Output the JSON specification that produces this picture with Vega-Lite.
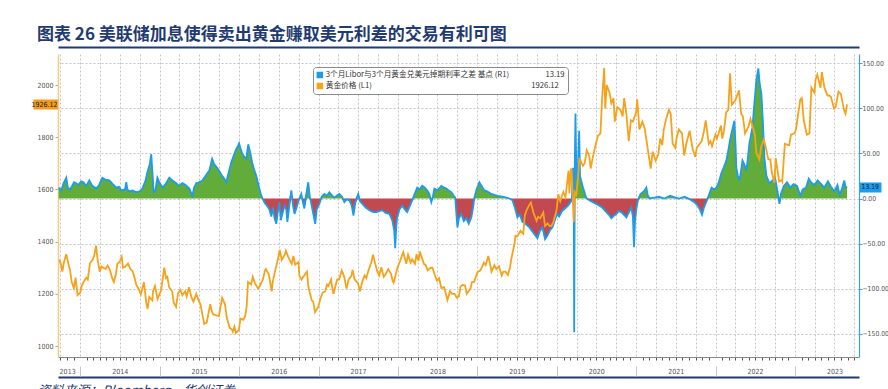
{
  "$schema": "https://vega.github.io/schema/vega-lite/v6.json",
  "width": 801,
  "height": 303,
  "autosize": {"type": "none"},
  "padding": {"left": 58, "top": 54, "right": 29, "bottom": 32},
  "background": "white",
  "title": {"text": "图表 26 美联储加息使得卖出黄金赚取美元利差的交易有利可图", "anchor": "start", "frame": "group", "dx": -21, "offset": 3, "fontSize": 17, "font": "Noto Sans CJK SC", "fontWeight": "bold", "color": "#1f3b70"},
  "config": {"view": {"stroke": null}, "axis": {"labelFont": "DejaVu Sans Condensed", "labelFontSize": 7, "labelColor": "#555"}},
  "datasets": {
    "gold": [
      {"d":"2013-09-26","v":1330},{"d":"2013-10-03","v":1315},{"d":"2013-10-10","v":1285},{"d":"2013-10-17","v":1320},{"d":"2013-10-28","v":1352},{"d":"2013-11-06","v":1318},{"d":"2013-11-15","v":1288},{"d":"2013-11-22","v":1245},{"d":"2013-12-02","v":1222},{"d":"2013-12-10","v":1262},{"d":"2013-12-19","v":1195},{"d":"2013-12-31","v":1204},
      {"d":"2014-01-07","v":1230},{"d":"2014-01-15","v":1245},{"d":"2014-01-28","v":1262},{"d":"2014-02-04","v":1255},{"d":"2014-02-14","v":1318},{"d":"2014-02-26","v":1330},{"d":"2014-03-05","v":1345},{"d":"2014-03-14","v":1385},{"d":"2014-03-21","v":1332},{"d":"2014-03-31","v":1285},{"d":"2014-04-08","v":1305},{"d":"2014-04-15","v":1300},{"d":"2014-04-28","v":1296},{"d":"2014-05-06","v":1308},{"d":"2014-05-16","v":1294},{"d":"2014-05-28","v":1258},{"d":"2014-06-04","v":1245},{"d":"2014-06-13","v":1274},{"d":"2014-06-20","v":1315},{"d":"2014-06-30","v":1322},{"d":"2014-07-10","v":1342},{"d":"2014-07-16","v":1300},{"d":"2014-07-28","v":1306},{"d":"2014-08-08","v":1316},{"d":"2014-08-20","v":1294},{"d":"2014-08-29","v":1287},{"d":"2014-09-05","v":1268},{"d":"2014-09-15","v":1235},{"d":"2014-09-30","v":1212},{"d":"2014-10-06","v":1198},{"d":"2014-10-20","v":1245},{"d":"2014-10-31","v":1165},{"d":"2014-11-06","v":1142},{"d":"2014-11-14","v":1188},{"d":"2014-11-28","v":1175},{"d":"2014-12-01","v":1210},{"d":"2014-12-10","v":1230},{"d":"2014-12-22","v":1180},{"d":"2014-12-31","v":1199},
      {"d":"2015-01-07","v":1213},{"d":"2015-01-22","v":1300},{"d":"2015-01-30","v":1260},{"d":"2015-02-05","v":1265},{"d":"2015-02-13","v":1226},{"d":"2015-02-27","v":1210},{"d":"2015-03-06","v":1167},{"d":"2015-03-17","v":1150},{"d":"2015-03-26","v":1202},{"d":"2015-04-06","v":1215},{"d":"2015-04-15","v":1195},{"d":"2015-04-28","v":1210},{"d":"2015-05-05","v":1190},{"d":"2015-05-15","v":1225},{"d":"2015-05-27","v":1186},{"d":"2015-06-05","v":1170},{"d":"2015-06-18","v":1200},{"d":"2015-06-30","v":1172},{"d":"2015-07-07","v":1160},{"d":"2015-07-20","v":1106},{"d":"2015-07-24","v":1085},{"d":"2015-08-05","v":1090},{"d":"2015-08-21","v":1160},{"d":"2015-08-28","v":1134},{"d":"2015-09-04","v":1121},{"d":"2015-09-17","v":1118},{"d":"2015-09-30","v":1115},{"d":"2015-10-05","v":1138},{"d":"2015-10-15","v":1185},{"d":"2015-10-28","v":1160},{"d":"2015-11-05","v":1110},{"d":"2015-11-18","v":1070},{"d":"2015-11-30","v":1062},{"d":"2015-12-03","v":1055},{"d":"2015-12-10","v":1074},{"d":"2015-12-17","v":1050},{"d":"2015-12-31","v":1061},
      {"d":"2016-01-07","v":1105},{"d":"2016-01-20","v":1100},{"d":"2016-01-29","v":1115},{"d":"2016-02-05","v":1155},{"d":"2016-02-11","v":1245},{"d":"2016-02-25","v":1236},{"d":"2016-03-04","v":1265},{"d":"2016-03-14","v":1240},{"d":"2016-03-28","v":1220},{"d":"2016-04-05","v":1230},{"d":"2016-04-20","v":1256},{"d":"2016-04-29","v":1290},{"d":"2016-05-03","v":1295},{"d":"2016-05-16","v":1276},{"d":"2016-05-30","v":1210},{"d":"2016-06-03","v":1243},{"d":"2016-06-15","v":1290},{"d":"2016-06-24","v":1320},{"d":"2016-07-06","v":1368},{"d":"2016-07-15","v":1330},{"d":"2016-07-29","v":1350},{"d":"2016-08-03","v":1365},{"d":"2016-08-15","v":1340},{"d":"2016-08-30","v":1315},{"d":"2016-09-07","v":1345},{"d":"2016-09-15","v":1312},{"d":"2016-09-30","v":1322},{"d":"2016-10-04","v":1270},{"d":"2016-10-14","v":1255},{"d":"2016-10-31","v":1276},{"d":"2016-11-08","v":1285},{"d":"2016-11-15","v":1225},{"d":"2016-11-30","v":1175},{"d":"2016-12-07","v":1170},{"d":"2016-12-15","v":1130},{"d":"2016-12-30","v":1150},
      {"d":"2017-01-10","v":1185},{"d":"2017-01-20","v":1205},{"d":"2017-01-31","v":1210},{"d":"2017-02-08","v":1235},{"d":"2017-02-15","v":1230},{"d":"2017-02-27","v":1255},{"d":"2017-03-03","v":1230},{"d":"2017-03-10","v":1200},{"d":"2017-03-27","v":1255},{"d":"2017-04-05","v":1255},{"d":"2017-04-17","v":1290},{"d":"2017-04-28","v":1266},{"d":"2017-05-09","v":1220},{"d":"2017-05-19","v":1255},{"d":"2017-05-31","v":1268},{"d":"2017-06-06","v":1292},{"d":"2017-06-15","v":1255},{"d":"2017-06-30","v":1242},{"d":"2017-07-10","v":1210},{"d":"2017-07-20","v":1245},{"d":"2017-07-31","v":1270},{"d":"2017-08-08","v":1260},{"d":"2017-08-18","v":1290},{"d":"2017-08-31","v":1320},{"d":"2017-09-08","v":1350},{"d":"2017-09-15","v":1325},{"d":"2017-09-29","v":1282},{"d":"2017-10-06","v":1270},{"d":"2017-10-16","v":1302},{"d":"2017-10-27","v":1265},{"d":"2017-11-06","v":1277},{"d":"2017-11-17","v":1295},{"d":"2017-11-30","v":1276},{"d":"2017-12-07","v":1250},{"d":"2017-12-12","v":1243},{"d":"2017-12-29","v":1300},
      {"d":"2018-01-08","v":1320},{"d":"2018-01-25","v":1360},{"d":"2018-01-31","v":1340},{"d":"2018-02-08","v":1315},{"d":"2018-02-16","v":1350},{"d":"2018-02-28","v":1320},{"d":"2018-03-07","v":1332},{"d":"2018-03-20","v":1315},{"d":"2018-03-27","v":1352},{"d":"2018-04-05","v":1326},{"d":"2018-04-11","v":1362},{"d":"2018-04-30","v":1315},{"d":"2018-05-08","v":1310},{"d":"2018-05-17","v":1290},{"d":"2018-05-31","v":1300},{"d":"2018-06-08","v":1300},{"d":"2018-06-20","v":1270},{"d":"2018-06-29","v":1250},{"d":"2018-07-09","v":1260},{"d":"2018-07-19","v":1222},{"d":"2018-07-31","v":1226},{"d":"2018-08-06","v":1210},{"d":"2018-08-16","v":1176},{"d":"2018-08-28","v":1210},{"d":"2018-09-06","v":1200},{"d":"2018-09-18","v":1200},{"d":"2018-09-28","v":1185},{"d":"2018-10-08","v":1190},{"d":"2018-10-15","v":1228},{"d":"2018-10-26","v":1235},{"d":"2018-11-05","v":1232},{"d":"2018-11-13","v":1200},{"d":"2018-11-30","v":1220},{"d":"2018-12-07","v":1245},{"d":"2018-12-17","v":1246},{"d":"2018-12-31","v":1280},
      {"d":"2019-01-04","v":1285},{"d":"2019-01-15","v":1290},{"d":"2019-01-31","v":1320},{"d":"2019-02-08","v":1310},{"d":"2019-02-20","v":1345},{"d":"2019-02-28","v":1315},{"d":"2019-03-07","v":1285},{"d":"2019-03-20","v":1310},{"d":"2019-03-29","v":1295},{"d":"2019-04-10","v":1306},{"d":"2019-04-23","v":1270},{"d":"2019-04-30","v":1285},{"d":"2019-05-10","v":1285},{"d":"2019-05-21","v":1272},{"d":"2019-05-31","v":1300},{"d":"2019-06-05","v":1330},{"d":"2019-06-20","v":1390},{"d":"2019-06-25","v":1422},{"d":"2019-07-03","v":1420},{"d":"2019-07-18","v":1442},{"d":"2019-07-31","v":1430},{"d":"2019-08-07","v":1500},{"d":"2019-08-15","v":1520},{"d":"2019-08-27","v":1540},{"d":"2019-09-04","v":1550},{"d":"2019-09-16","v":1510},{"d":"2019-09-30","v":1480},{"d":"2019-10-07","v":1495},{"d":"2019-10-17","v":1490},{"d":"2019-10-31","v":1512},{"d":"2019-11-08","v":1460},{"d":"2019-11-20","v":1470},{"d":"2019-11-29","v":1460},{"d":"2019-12-06","v":1460},{"d":"2019-12-16","v":1475},{"d":"2019-12-31","v":1520},
      {"d":"2020-01-08","v":1582},{"d":"2020-01-17","v":1555},{"d":"2020-01-31","v":1590},{"d":"2020-02-10","v":1570},{"d":"2020-02-24","v":1672},{"d":"2020-02-28","v":1585},{"d":"2020-03-06","v":1680},{"d":"2020-03-10","v":1670},{"d":"2020-03-19","v":1475},{"d":"2020-03-24","v":1590},{"d":"2020-03-31","v":1580},{"d":"2020-04-08","v":1650},{"d":"2020-04-14","v":1720},{"d":"2020-04-30","v":1690},{"d":"2020-05-08","v":1700},{"d":"2020-05-18","v":1750},{"d":"2020-05-29","v":1730},{"d":"2020-06-05","v":1680},{"d":"2020-06-15","v":1725},{"d":"2020-06-30","v":1780},{"d":"2020-07-08","v":1805},{"d":"2020-07-20","v":1815},{"d":"2020-07-27","v":1940},{"d":"2020-08-06","v":2065},{"d":"2020-08-11","v":1910},{"d":"2020-08-18","v":2000},{"d":"2020-08-31","v":1970},{"d":"2020-09-08","v":1930},{"d":"2020-09-18","v":1950},{"d":"2020-09-24","v":1860},{"d":"2020-10-05","v":1915},{"d":"2020-10-20","v":1905},{"d":"2020-10-30","v":1880},{"d":"2020-11-06","v":1950},{"d":"2020-11-16","v":1890},{"d":"2020-11-27","v":1785},{"d":"2020-12-07","v":1865},{"d":"2020-12-16","v":1860},{"d":"2020-12-31","v":1895},
      {"d":"2021-01-05","v":1945},{"d":"2021-01-15","v":1830},{"d":"2021-01-29","v":1860},{"d":"2021-02-08","v":1835},{"d":"2021-02-19","v":1775},{"d":"2021-02-26","v":1735},{"d":"2021-03-08","v":1680},{"d":"2021-03-17","v":1745},{"d":"2021-03-31","v":1710},{"d":"2021-04-12","v":1735},{"d":"2021-04-21","v":1795},{"d":"2021-04-30","v":1770},{"d":"2021-05-07","v":1830},{"d":"2021-05-18","v":1870},{"d":"2021-05-31","v":1905},{"d":"2021-06-08","v":1890},{"d":"2021-06-17","v":1775},{"d":"2021-06-29","v":1760},{"d":"2021-07-06","v":1800},{"d":"2021-07-15","v":1830},{"d":"2021-07-30","v":1815},{"d":"2021-08-09","v":1730},{"d":"2021-08-20","v":1780},{"d":"2021-08-31","v":1815},{"d":"2021-09-03","v":1825},{"d":"2021-09-17","v":1755},{"d":"2021-09-29","v":1725},{"d":"2021-10-06","v":1760},{"d":"2021-10-15","v":1770},{"d":"2021-10-29","v":1785},{"d":"2021-11-08","v":1825},{"d":"2021-11-16","v":1865},{"d":"2021-11-30","v":1775},{"d":"2021-12-08","v":1785},{"d":"2021-12-15","v":1765},{"d":"2021-12-31","v":1810},
      {"d":"2022-01-07","v":1795},{"d":"2022-01-25","v":1845},{"d":"2022-01-31","v":1795},{"d":"2022-02-08","v":1825},{"d":"2022-02-18","v":1895},{"d":"2022-02-28","v":1905},{"d":"2022-03-08","v":2045},{"d":"2022-03-16","v":1925},{"d":"2022-03-31","v":1940},{"d":"2022-04-12","v":1965},{"d":"2022-04-18","v":1980},{"d":"2022-04-28","v":1890},{"d":"2022-05-06","v":1880},{"d":"2022-05-16","v":1815},{"d":"2022-05-31","v":1840},{"d":"2022-06-10","v":1870},{"d":"2022-06-20","v":1840},{"d":"2022-06-30","v":1810},{"d":"2022-07-07","v":1740},{"d":"2022-07-21","v":1715},{"d":"2022-07-29","v":1765},{"d":"2022-08-10","v":1790},{"d":"2022-08-17","v":1770},{"d":"2022-08-31","v":1715},{"d":"2022-09-09","v":1715},{"d":"2022-09-16","v":1665},{"d":"2022-09-28","v":1625},{"d":"2022-10-04","v":1720},{"d":"2022-10-20","v":1630},{"d":"2022-10-31","v":1635},{"d":"2022-11-03","v":1630},{"d":"2022-11-15","v":1775},{"d":"2022-11-30","v":1770},{"d":"2022-12-05","v":1770},{"d":"2022-12-13","v":1810},{"d":"2022-12-30","v":1815},
      {"d":"2023-01-05","v":1830},{"d":"2023-01-25","v":1945},{"d":"2023-02-01","v":1950},{"d":"2023-02-10","v":1865},{"d":"2023-02-24","v":1810},{"d":"2023-03-08","v":1815},{"d":"2023-03-17","v":1990},{"d":"2023-03-31","v":1970},{"d":"2023-04-05","v":2020},{"d":"2023-04-13","v":2040},{"d":"2023-04-28","v":1990},{"d":"2023-05-04","v":2050},{"d":"2023-05-16","v":1990},{"d":"2023-05-30","v":1960},{"d":"2023-06-06","v":1960},{"d":"2023-06-15","v":1955},{"d":"2023-06-29","v":1910},{"d":"2023-07-06","v":1915},{"d":"2023-07-20","v":1975},{"d":"2023-07-31","v":1965},{"d":"2023-08-09","v":1925},{"d":"2023-08-16","v":1900},{"d":"2023-08-21","v":1890},{"d":"2023-08-28","v":1926.12}
    ],
    "spread": [
      {"d":"2013-09-23","v":12},{"d":"2013-10-05","v":9},{"d":"2013-10-16","v":17},{"d":"2013-10-28","v":23},{"d":"2013-11-04","v":12},{"d":"2013-11-12","v":10},{"d":"2013-11-22","v":13},{"d":"2013-12-03","v":18},{"d":"2013-12-12","v":17},{"d":"2013-12-22","v":15},
      {"d":"2014-01-05","v":19},{"d":"2014-01-15","v":18},{"d":"2014-01-28","v":14},{"d":"2014-02-11","v":20},{"d":"2014-02-25","v":14},{"d":"2014-03-15","v":11},{"d":"2014-03-28","v":15},{"d":"2014-04-12","v":23},{"d":"2014-04-25","v":21},{"d":"2014-05-14","v":20},{"d":"2014-05-30","v":16},{"d":"2014-06-15","v":12},{"d":"2014-06-28","v":13},{"d":"2014-07-08","v":9},{"d":"2014-07-25","v":10},{"d":"2014-07-31","v":18},{"d":"2014-08-05","v":10},{"d":"2014-08-14","v":8},{"d":"2014-08-30","v":9},{"d":"2014-09-15","v":7},{"d":"2014-09-30","v":8},{"d":"2014-10-13","v":11},{"d":"2014-10-28","v":20},{"d":"2014-11-05","v":29},{"d":"2014-11-16","v":38},{"d":"2014-11-23","v":49},{"d":"2014-11-28","v":30},{"d":"2014-12-04","v":7},{"d":"2014-12-12","v":9},{"d":"2014-12-21","v":23},{"d":"2014-12-30","v":18},
      {"d":"2015-01-13","v":12},{"d":"2015-01-28","v":16},{"d":"2015-02-14","v":23},{"d":"2015-02-28","v":20},{"d":"2015-03-18","v":17},{"d":"2015-03-30","v":14},{"d":"2015-04-15","v":17},{"d":"2015-04-30","v":15},{"d":"2015-05-17","v":11},{"d":"2015-05-31","v":3},{"d":"2015-06-08","v":12},{"d":"2015-06-18","v":17},{"d":"2015-07-01","v":18},{"d":"2015-07-16","v":20},{"d":"2015-07-30","v":25},{"d":"2015-08-17","v":31},{"d":"2015-08-24","v":38},{"d":"2015-08-30","v":44},{"d":"2015-09-08","v":38},{"d":"2015-09-22","v":34},{"d":"2015-10-05","v":29},{"d":"2015-10-15","v":25},{"d":"2015-10-25","v":22},{"d":"2015-11-03","v":18},{"d":"2015-11-15","v":30},{"d":"2015-11-26","v":40},{"d":"2015-12-08","v":48},{"d":"2015-12-19","v":55},{"d":"2015-12-26","v":58},
      {"d":"2016-01-01","v":61},{"d":"2016-01-08","v":55},{"d":"2016-01-15","v":50},{"d":"2016-01-25","v":46},{"d":"2016-02-03","v":44},{"d":"2016-02-12","v":60},{"d":"2016-02-20","v":52},{"d":"2016-03-01","v":40},{"d":"2016-03-10","v":32},{"d":"2016-03-20","v":25},{"d":"2016-03-27","v":18},{"d":"2016-04-03","v":11},{"d":"2016-04-10","v":5},{"d":"2016-04-17","v":0},{"d":"2016-04-28","v":-5},{"d":"2016-05-08","v":-8},{"d":"2016-05-19","v":-12},{"d":"2016-05-28","v":-20},{"d":"2016-06-05","v":-10},{"d":"2016-06-12","v":-22},{"d":"2016-06-20","v":-28},{"d":"2016-06-27","v":-15},{"d":"2016-07-04","v":-4},{"d":"2016-07-11","v":-24},{"d":"2016-07-18","v":-17},{"d":"2016-07-28","v":-8},{"d":"2016-08-05","v":-12},{"d":"2016-08-10","v":-26},{"d":"2016-08-18","v":-10},{"d":"2016-08-28","v":9},{"d":"2016-09-05","v":-8},{"d":"2016-09-12","v":-17},{"d":"2016-09-20","v":-11},{"d":"2016-10-01","v":-2},{"d":"2016-10-13","v":5},{"d":"2016-10-20","v":-4},{"d":"2016-10-27","v":-11},{"d":"2016-11-07","v":8},{"d":"2016-11-14","v":18},{"d":"2016-11-21","v":2},{"d":"2016-11-28","v":-6},{"d":"2016-12-08","v":-18},{"d":"2016-12-16","v":-28},{"d":"2016-12-23","v":-12},
      {"d":"2017-01-04","v":-6},{"d":"2017-01-15","v":2},{"d":"2017-01-27","v":5},{"d":"2017-02-08","v":3},{"d":"2017-02-19","v":7},{"d":"2017-03-01","v":4},{"d":"2017-03-14","v":1},{"d":"2017-03-25","v":3},{"d":"2017-04-06","v":5},{"d":"2017-04-18","v":2},{"d":"2017-04-29","v":-4},{"d":"2017-05-10","v":-1},{"d":"2017-05-22","v":-2},{"d":"2017-06-02","v":-8},{"d":"2017-06-10","v":-19},{"d":"2017-06-18","v":-5},{"d":"2017-07-02","v":5},{"d":"2017-07-10","v":-3},{"d":"2017-07-21","v":-6},{"d":"2017-08-05","v":-10},{"d":"2017-08-22","v":-13},{"d":"2017-09-08","v":-15},{"d":"2017-09-23","v":-15},{"d":"2017-10-07","v":-14},{"d":"2017-10-21","v":-13},{"d":"2017-11-05","v":-16},{"d":"2017-11-22","v":-17},{"d":"2017-12-05","v":-24},{"d":"2017-12-14","v":-35},{"d":"2017-12-19","v":-55},{"d":"2017-12-24","v":-30},{"d":"2017-12-28","v":-21},
      {"d":"2018-01-08","v":-12},{"d":"2018-01-20","v":-8},{"d":"2018-02-01","v":-12},{"d":"2018-02-12","v":-15},{"d":"2018-02-25","v":-8},{"d":"2018-03-07","v":-2},{"d":"2018-03-18","v":5},{"d":"2018-03-30","v":12},{"d":"2018-04-10","v":10},{"d":"2018-04-22","v":14},{"d":"2018-05-04","v":12},{"d":"2018-05-15","v":9},{"d":"2018-05-25","v":5},{"d":"2018-06-03","v":-4},{"d":"2018-06-10","v":2},{"d":"2018-06-17","v":11},{"d":"2018-07-01","v":9},{"d":"2018-07-19","v":14},{"d":"2018-08-01","v":12},{"d":"2018-08-11","v":11},{"d":"2018-08-22","v":9},{"d":"2018-09-03","v":7},{"d":"2018-09-14","v":3},{"d":"2018-09-21","v":1},{"d":"2018-09-27","v":-20},{"d":"2018-10-01","v":-32},{"d":"2018-10-08","v":-22},{"d":"2018-10-19","v":-17},{"d":"2018-10-30","v":-25},{"d":"2018-11-11","v":-22},{"d":"2018-11-22","v":-28},{"d":"2018-12-04","v":-21},{"d":"2018-12-12","v":-10},{"d":"2018-12-18","v":1},{"d":"2018-12-28","v":10},
      {"d":"2019-01-10","v":18},{"d":"2019-01-20","v":14},{"d":"2019-02-02","v":9},{"d":"2019-02-15","v":8},{"d":"2019-03-06","v":5},{"d":"2019-03-20","v":4},{"d":"2019-04-03","v":3},{"d":"2019-04-25","v":2},{"d":"2019-05-14","v":1},{"d":"2019-05-28","v":0},{"d":"2019-06-11","v":-2},{"d":"2019-06-22","v":-10},{"d":"2019-07-04","v":-21},{"d":"2019-07-15","v":-18},{"d":"2019-07-27","v":-26},{"d":"2019-08-10","v":-28},{"d":"2019-08-28","v":-32},{"d":"2019-09-15","v":-38},{"d":"2019-10-04","v":-44},{"d":"2019-10-15","v":-36},{"d":"2019-10-27","v":-32},{"d":"2019-11-08","v":-45},{"d":"2019-11-19","v":-41},{"d":"2019-12-01","v":-35},{"d":"2019-12-12","v":-32},{"d":"2019-12-22","v":-25},
      {"d":"2020-01-03","v":-17},{"d":"2020-01-12","v":-20},{"d":"2020-01-25","v":-14},{"d":"2020-02-13","v":-10},{"d":"2020-02-28","v":-6},{"d":"2020-03-10","v":-2},{"d":"2020-03-16","v":34},{"d":"2020-03-19","v":10},{"d":"2020-03-21","v":-148},{"d":"2020-03-24","v":40},{"d":"2020-03-27","v":94},{"d":"2020-03-31","v":30},{"d":"2020-04-06","v":20},{"d":"2020-04-13","v":75},{"d":"2020-04-17","v":25},{"d":"2020-04-22","v":20},{"d":"2020-05-01","v":12},{"d":"2020-05-15","v":1},{"d":"2020-05-29","v":-2},{"d":"2020-06-15","v":-4},{"d":"2020-07-01","v":-6},{"d":"2020-07-15","v":-8},{"d":"2020-07-28","v":-10},{"d":"2020-08-16","v":-15},{"d":"2020-08-28","v":-18},{"d":"2020-09-08","v":-22},{"d":"2020-09-20","v":-19},{"d":"2020-10-01","v":-17},{"d":"2020-10-12","v":-14},{"d":"2020-10-24","v":-15},{"d":"2020-11-05","v":-18},{"d":"2020-11-16","v":-21},{"d":"2020-11-28","v":-15},{"d":"2020-12-09","v":-10},{"d":"2020-12-16","v":-20},{"d":"2020-12-21","v":-54},{"d":"2020-12-26","v":-24},
      {"d":"2021-01-01","v":-12},{"d":"2021-01-08","v":-2},{"d":"2021-01-20","v":5},{"d":"2021-02-05","v":8},{"d":"2021-02-16","v":12},{"d":"2021-02-22","v":4},{"d":"2021-03-02","v":0},{"d":"2021-03-25","v":1},{"d":"2021-04-15","v":2},{"d":"2021-05-10","v":0},{"d":"2021-06-05","v":3},{"d":"2021-07-01","v":1},{"d":"2021-07-18","v":0},{"d":"2021-08-10","v":2},{"d":"2021-09-05","v":-1},{"d":"2021-09-25","v":-4},{"d":"2021-10-10","v":-8},{"d":"2021-10-20","v":-12},{"d":"2021-10-30","v":-18},{"d":"2021-11-08","v":-10},{"d":"2021-11-20","v":-3},{"d":"2021-12-01","v":4},{"d":"2021-12-13","v":12},{"d":"2021-12-25","v":10},
      {"d":"2022-01-04","v":12},{"d":"2022-01-15","v":18},{"d":"2022-01-27","v":28},{"d":"2022-02-08","v":35},{"d":"2022-02-19","v":42},{"d":"2022-03-01","v":55},{"d":"2022-03-08","v":65},{"d":"2022-03-14","v":72},{"d":"2022-03-22","v":80},{"d":"2022-03-28","v":86},{"d":"2022-04-02","v":60},{"d":"2022-04-06","v":34},{"d":"2022-04-13","v":25},{"d":"2022-04-20","v":20},{"d":"2022-04-27","v":30},{"d":"2022-05-04","v":42},{"d":"2022-05-12","v":38},{"d":"2022-05-22","v":31},{"d":"2022-05-29","v":45},{"d":"2022-06-05","v":61},{"d":"2022-06-12","v":70},{"d":"2022-06-19","v":79},{"d":"2022-06-26","v":100},{"d":"2022-07-03","v":120},{"d":"2022-07-07","v":131},{"d":"2022-07-13","v":140},{"d":"2022-07-16","v":144},{"d":"2022-07-22","v":128},{"d":"2022-07-30","v":116},{"d":"2022-08-06","v":85},{"d":"2022-08-13","v":45},{"d":"2022-08-22","v":25},{"d":"2022-09-05","v":17},{"d":"2022-09-20","v":20},{"d":"2022-10-01","v":23},{"d":"2022-10-07","v":15},{"d":"2022-10-14","v":5},{"d":"2022-10-21","v":-6},{"d":"2022-10-28","v":5},{"d":"2022-11-10","v":14},{"d":"2022-11-25","v":18},{"d":"2022-12-10","v":12},{"d":"2022-12-25","v":16},
      {"d":"2023-01-10","v":14},{"d":"2023-01-25","v":3},{"d":"2023-02-05","v":10},{"d":"2023-02-20","v":12},{"d":"2023-03-05","v":22},{"d":"2023-03-15","v":18},{"d":"2023-03-30","v":15},{"d":"2023-04-15","v":20},{"d":"2023-05-01","v":16},{"d":"2023-05-15","v":12},{"d":"2023-06-01","v":19},{"d":"2023-06-15","v":13},{"d":"2023-07-01","v":8},{"d":"2023-07-15","v":15},{"d":"2023-07-25","v":4},{"d":"2023-08-05","v":11},{"d":"2023-08-15","v":20},{"d":"2023-08-22","v":12},{"d":"2023-08-28","v":13.19}
    ]
  },
  "layer": [
    {
      "data": {"name": "spread"},
      "mark": {"type": "area", "color": "#62ad3a", "interpolate": "linear"},
      "encoding": {
        "x": {"field": "d", "type": "temporal", "scale": {"type": "utc", "domain": [{"year": 2013, "month": 9, "date": 20, "utc": true}, {"year": 2023, "month": 10, "date": 22, "utc": true}]},
              "axis": {"orient": "bottom", "offset": 20, "domain": true, "domainColor": "#1f3b70", "domainWidth": 2, "ticks": false, "labels": false, "grid": false, "title": null}},
        "y": {"field": "v", "type": "quantitative", "scale": {"domain": [0, 160], "range": [144.5, 0], "clamp": true, "nice": false, "zero": false}, "axis": null},
        "y2": {"datum": 0}
      }
    },
    {
      "data": {"name": "spread"},
      "mark": {"type": "area", "color": "#c2494f", "interpolate": "linear"},
      "encoding": {
        "x": {"field": "d", "type": "temporal", "scale": {"type": "utc", "domain": [{"year": 2013, "month": 9, "date": 20, "utc": true}, {"year": 2023, "month": 10, "date": 22, "utc": true}]},
              "axis": {"orient": "top", "offset": 7, "domain": true, "domainColor": "#1f3b70", "domainWidth": 2, "ticks": false, "labels": false, "grid": false, "title": null}},
        "y": {"field": "v", "type": "quantitative", "scale": {"domain": [-175.5, 0], "range": [303, 144.5], "clamp": true, "nice": false, "zero": false}, "axis": null},
        "y2": {"datum": 0}
      }
    },
    {
      "data": {"name": "spread"},
      "mark": {"type": "line", "strokeWidth": 1.8, "interpolate": "linear"},
      "encoding": {
        "x": {"field": "d", "type": "temporal", "scale": {"type": "utc", "domain": [{"year": 2013, "month": 9, "date": 20, "utc": true}, {"year": 2023, "month": 10, "date": 22, "utc": true}]}, "axis": null},
        "y": {"field": "v", "type": "quantitative", "scale": {"domain": [-175.5, 160], "nice": false, "zero": false},
              "axis": {"orient": "right", "values": [-150, -100, -50, 0, 50, 100, 150, 13.19], "format": ".2f", "title": null,
                       "labelFontSize": 6.8,
                       "grid": true, "gridColor": "#c4c4c4", "gridDash": [2, 2],
                       "gridOpacity": {"condition": {"test": "datum.value == 13.19", "value": 0}, "value": 1},
                       "domainColor": "#3aa0e0", "domainWidth": 1.2,
                       "tickColor": {"condition": {"test": "datum.value == 13.19", "value": "#1c9cec"}, "value": "#3aa0e0"},
                       "tickSize": {"condition": {"test": "datum.value == 13.19", "value": 22}, "value": 3},
                       "tickWidth": {"condition": {"test": "datum.value == 13.19", "value": 10}, "value": 1},
                       "labelPadding": {"condition": {"test": "datum.value == 13.19", "value": -20}, "value": 0},
                       "labelColor": {"condition": {"test": "datum.value == 13.19", "value": "#222"}, "value": "#555"}}},
        "color": {"datum": "spread", "type": "nominal",
                  "scale": {"domain": ["spread", "gold"], "range": ["#1c9cec", "#f7a21b"]},
                  "legend": {"orient": "none", "legendX": 255, "legendY": 13, "title": null, "symbolType": "square", "symbolSize": 9, "symbolStrokeWidth": 3.5,
                             "labelFont": "Noto Sans CJK SC", "labelFontSize": 7.7, "labelColor": "#333", "labelLimit": 500, "clipHeight": 10,
                             "labelExpr": "datum.value == 'spread' ? '3个月Libor与3个月黄金兑美元掉期利率之差 基点 (R1)\u2003\u2003\u2003\u2003\u2002 13.19' : '黄金价格 (L1)\u2003\u2003\u2003\u2003\u2003\u2003\u2003\u2003\u2003\u2003\u2003\u2003\u2003\u2003\u2003\u2003\u2003\u2003\u2003\u2003\u2002 1926.12'",
                             "fillColor": "#ffffff", "strokeColor": "#8a8a8a", "padding": 3, "cornerRadius": 3, "rowPadding": 1, "labelOffset": 2}}
      }
    },
    {
      "data": {"name": "gold"},
      "mark": {"type": "line", "strokeWidth": 1.8, "interpolate": "linear"},
      "encoding": {
        "x": {"field": "d", "type": "temporal", "scale": {"type": "utc", "domain": [{"year": 2013, "month": 9, "date": 20, "utc": true}, {"year": 2023, "month": 10, "date": 22, "utc": true}]},
              "axis": {"orient": "bottom", "tickCount": {"interval": "month", "step": 1},
                       "labelExpr": "utcmonth(datum.value) == 6 || (utcyear(datum.value) == 2013 && utcmonth(datum.value) == 10) ? utcFormat(datum.value, '%Y') : ''",
                       "labelFlush": false, "labelOverlap": false, "labelPadding": 7, "labelColor": "#555",
                       "grid": true, "gridColor": "#c4c4c4", "gridDash": [2, 2],
                       "gridOpacity": {"condition": {"test": "utcmonth(datum.value) % 3 == 0", "value": 1}, "value": 0},
                       "domainColor": "#888",
                       "tickSize": {"condition": {"test": "utcmonth(datum.value) == 0", "value": 19}, "value": 3},
                       "tickColor": {"condition": {"test": "utcmonth(datum.value) == 0", "value": "#c8c8c8"}, "value": "#555"},
                       "tickDash": {"condition": {"test": "utcmonth(datum.value) == 0", "value": [0, 9, 10, 50]}, "value": []},
                       "title": "资料来源：Bloomberg，华创证券", "titleFont": "Noto Sans CJK SC", "titleFontSize": 13, "titleFontStyle": "italic", "titleFontWeight": "normal",
                       "titleColor": "#1f3b70", "titleAnchor": "start", "titleAlign": "left", "titleX": -21, "titleY": 37, "titleBaseline": "alphabetic"}},
        "y": {"field": "v", "type": "quantitative", "scale": {"domain": [958, 2119], "nice": false, "zero": false},
              "axis": {"orient": "left", "values": [1000, 1200, 1400, 1600, 1800, 2000, 1926.12], "title": null, "grid": false,
                       "labelExpr": "datum.value == 1926.12 ? '1926.12' : format(datum.value, 'd')",
                       "domainColor": "#f3c98c", "domainWidth": 1.5,
                       "tickColor": {"condition": {"test": "datum.value == 1926.12", "value": "#f29b1d"}, "value": "#f0a030"},
                       "tickSize": {"condition": {"test": "datum.value == 1926.12", "value": 25}, "value": 3},
                       "tickWidth": {"condition": {"test": "datum.value == 1926.12", "value": 10}, "value": 1},
                       "labelPadding": {"condition": {"test": "datum.value == 1926.12", "value": -24}, "value": 2},
                       "labelColor": {"condition": {"test": "datum.value == 1926.12", "value": "#222"}, "value": "#555"}}},
        "color": {"datum": "gold", "type": "nominal"}
      }
    }
  ],
  "resolve": {"scale": {"y": "independent", "color": "shared"}, "axis": {"x": "independent", "y": "independent"}}
}
